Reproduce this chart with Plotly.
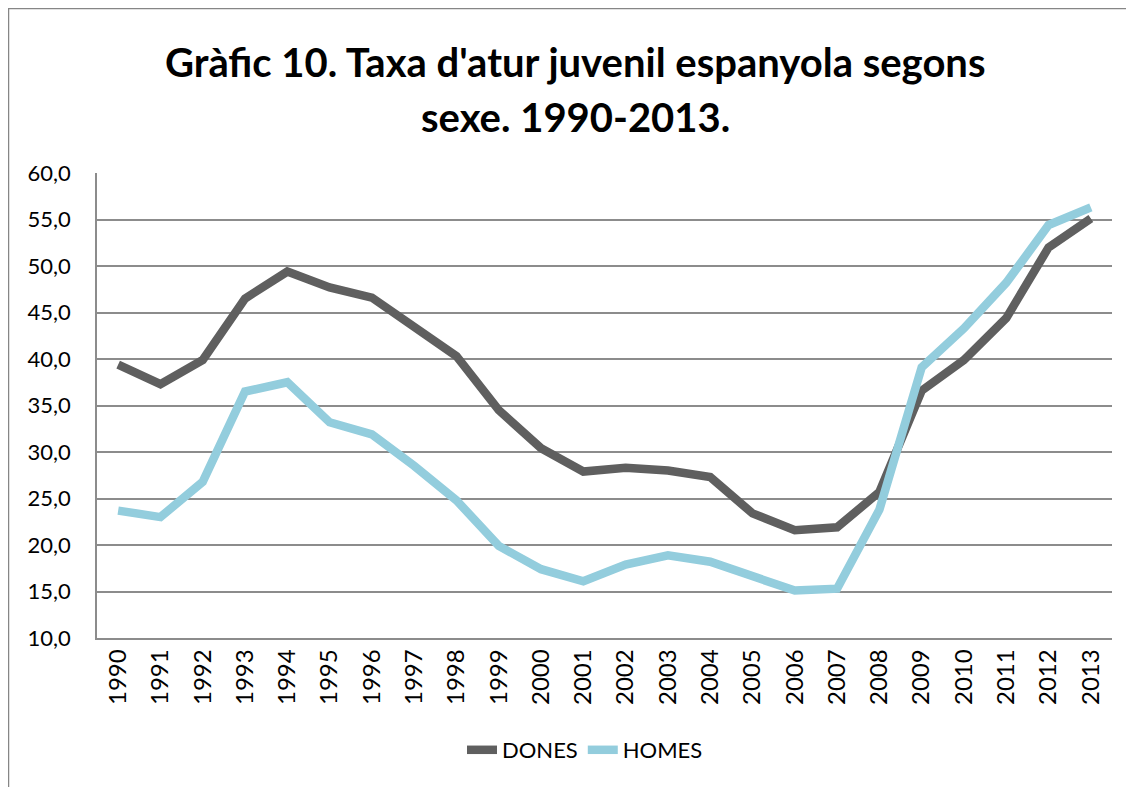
import plotly.graph_objects as go

years = [str(y) for y in range(1990, 2014)]
dones = [39.4, 37.3, 39.9, 46.5, 49.4, 47.7, 46.6, 43.4, 40.3, 34.5, 30.4, 27.9,
         28.3, 28.0, 27.3, 23.4, 21.6, 21.9, 25.7, 36.6, 39.9, 44.4, 52.0, 55.1]
homes = [23.7, 23.0, 26.8, 36.5, 37.5, 33.2, 31.9, 28.5, 24.8, 19.9, 17.4, 16.1,
         17.9, 18.9, 18.2, 16.7, 15.1, 15.3, 23.8, 39.1, 43.3, 48.2, 54.4, 56.3]
y_ticks = [10, 15, 20, 25, 30, 35, 40, 45, 50, 55, 60]
title_lines = ["Gràfic 10. Taxa d'atur juvenil espanyola segons", "sexe. 1990-2013."]

FONT = "Lato, 'Open Sans', sans-serif"
GRID = "#8c8c8c"

# plot area in figure pixels (page has an 8px body offset)
L, R, T, B = 89, 1104, 165, 630
PW, PH = R - L, B - T

fig = go.Figure()
fig.add_trace(go.Scatter(x=years, y=dones, mode="lines", name="DONES",
                         line=dict(color="#5f5f5f", width=8.5)))
fig.add_trace(go.Scatter(x=years, y=homes, mode="lines", name="HOMES",
                         line=dict(color="#93cddd", width=8.5)))

fig.update_layout(
    width=1134, height=787,
    margin=dict(l=L, r=1134 - R, t=T, b=787 - B, pad=0),
    paper_bgcolor="white", plot_bgcolor="white",
    separators=",.",
    font=dict(family=FONT, color="black", size=22),
    showlegend=True,
    legend=dict(orientation="h", x=(577 - L) / PW, xanchor="center", y=(B - 742) / PH,
                yanchor="middle", font=dict(size=22, family=FONT), traceorder="normal"),
    xaxis=dict(type="category", range=[-0.5, 23.5], tickangle=-90,
               showgrid=False, showline=True, linecolor=GRID, linewidth=1.5,
               ticks="", tickfont=dict(size=24), fixedrange=True),
    yaxis=dict(range=[10, 60], tickvals=y_ticks, tickformat=".1f",
               showgrid=True, gridcolor=GRID, gridwidth=1.5,
               showline=True, linecolor=GRID, linewidth=1.5, zeroline=False,
               ticks="", tickfont=dict(size=22), ticklabelstandoff=20),
)

# Title lines
for i, txt in enumerate(title_lines):
    fig.add_annotation(text=f"<b>{txt}</b>", xref="paper", yref="paper",
                       x=(567 - L) / PW, y=(B - (54 + 55 * i)) / PH,
                       xanchor="center", yanchor="middle", showarrow=False,
                       font=dict(size=40, family=FONT, color="black"))

# Outer chart border
fig.add_shape(type="rect", xref="paper", yref="paper",
              x0=(0.5 - L) / PW, x1=(1160 - L) / PW,
              y0=(B - 820) / PH, y1=(B - 0.5) / PH,
              line=dict(color="#868686", width=1.5), fillcolor="rgba(0,0,0,0)", layer="below")

fig.write_html("out.html")
